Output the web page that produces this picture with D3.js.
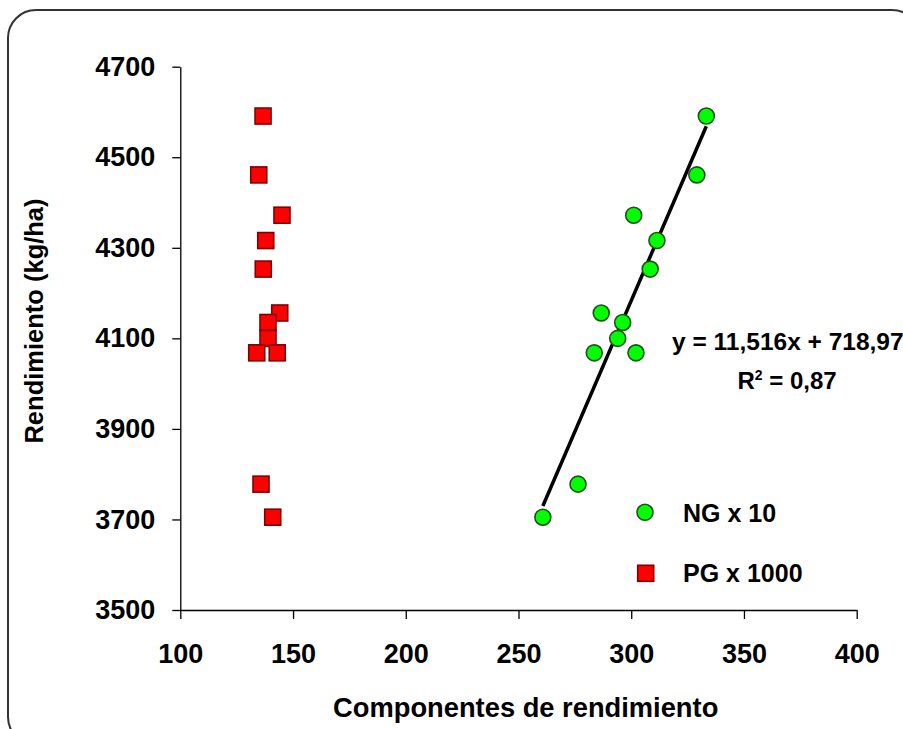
<!DOCTYPE html>
<html>
<head>
<meta charset="utf-8">
<script src="https://cdn.jsdelivr.net/npm/d3@7"></script>
<style>
  body { margin: 0; background: #fff; }
  text { font-family: "Liberation Sans", Arial, sans-serif; font-weight: bold; }
</style>
</head>
<body>
<div id="chart"></div>
<script>
// yield (kg/ha) shared by both series
var yieldVals = [4591, 4461, 4372, 4316, 4253, 4156, 4135, 4100, 4068, 4068, 3778, 3705];
// NG x 10 (green circles)
var ngVals = [333.3, 329.1, 301.1, 311.4, 308.4, 286.7, 296.2, 294.0, 283.6, 302.1, 276.4, 260.8];
// PG x 1000 (red squares)
var pgVals = [136.7, 134.8, 145.1, 137.9, 136.8, 144.1, 138.9, 138.9, 133.9, 143.0, 135.8, 141.0];

var xTicks = [100, 150, 200, 250, 300, 350, 400];
var yTicks = [3500, 3700, 3900, 4100, 4300, 4500, 4700];
var legendLabels = ["NG x 10", "PG x 1000"];
var eqLabel = "y = 11,516x + 718,97";

var width = 903, height = 729;

var svg = d3.select("#chart").append("svg").attr("width", width).attr("height", height);

// rounded frame, runs off the right and bottom edge
svg.append("rect")
   .attr("x", 8).attr("y", 10)
   .attr("width", 912).attr("height", 735)
   .attr("rx", 28).attr("ry", 28)
   .attr("fill", "none").attr("stroke", "#333").attr("stroke-width", 2);

var xScale = d3.scaleLinear().domain([100, 400]).range([180.3, 856.7]);
var yScale = d3.scaleLinear().domain([3500, 4700]).range([610, 66.7]);

//axes
var xAxis = d3.axisBottom(xScale).tickValues(xTicks).tickSize(9).tickSizeOuter(0).tickPadding(25).tickFormat(d3.format("d"));
var yAxis = d3.axisLeft(yScale).tickValues(yTicks).tickSize(8).tickSizeOuter(0).tickPadding(17).tickFormat(d3.format("d"));

var gx = svg.append("g").attr("transform", "translate(0,610)").call(xAxis);
var gy = svg.append("g").attr("transform", "translate(180.3,0)").call(yAxis);

[gx, gy].forEach(function(g){
  g.selectAll("path, line").attr("stroke", "#000").attr("stroke-width", 1.3);
  g.selectAll("text").attr("font-size", 27).attr("fill", "#000")
   .style("font-family", "'Liberation Sans', Arial, sans-serif").style("font-weight", "bold");
});

// trend line for NG series, least squares
var n = ngVals.length;
var mx = d3.mean(ngVals), my = d3.mean(yieldVals);
var sxy = 0, sxx = 0;
for (var i = 0; i < n; i++) {
  sxy += (ngVals[i] - mx) * (yieldVals[i] - my);
  sxx += (ngVals[i] - mx) * (ngVals[i] - mx);
}
var slope = sxy / sxx, icpt = my - slope * mx;
var xr = d3.extent(ngVals);
svg.append("line")
   .attr("x1", xScale(xr[0])).attr("y1", yScale(slope * xr[0] + icpt))
   .attr("x2", xScale(xr[1])).attr("y2", yScale(slope * xr[1] + icpt))
   .attr("stroke", "#000").attr("stroke-width", 3.5);

// red squares
var sq = 16;
svg.selectAll("rect.pg")
   .data(pgVals).enter().append("rect")
   .attr("class", "pg")
   .attr("x", function(d){ return xScale(d) - sq / 2; })
   .attr("y", function(d, i){ return yScale(yieldVals[i]) - sq / 2; })
   .attr("width", sq).attr("height", sq)
   .attr("fill", "#ff0000").attr("stroke", "#800000").attr("stroke-width", 1.6);

// green circles
svg.selectAll("circle.ng")
   .data(ngVals).enter().append("circle")
   .attr("class", "ng")
   .attr("cx", function(d){ return xScale(d); })
   .attr("cy", function(d, i){ return yScale(yieldVals[i]); })
   .attr("r", 8)
   .attr("fill", "#00ff00").attr("stroke", "#1f4f1f").attr("stroke-width", 1.6);

// equation and R2
svg.append("text").attr("x", 672).attr("y", 350).attr("font-size", 24.5).text(eqLabel);
var r2 = svg.append("text").attr("x", 787).attr("y", 389).attr("font-size", 24).attr("text-anchor", "middle");
r2.append("tspan").text("R");
r2.append("tspan").attr("font-size", 14).attr("dy", -9).text("2");
r2.append("tspan").attr("dy", 9).text(" = 0,87");

// legend
svg.append("circle").attr("cx", 645).attr("cy", 512.3).attr("r", 8)
   .attr("fill", "#00ff00").attr("stroke", "#1f4f1f").attr("stroke-width", 1.6);
svg.append("rect").attr("x", 645.7 - sq / 2).attr("y", 573.3 - sq / 2).attr("width", sq).attr("height", sq)
   .attr("fill", "#ff0000").attr("stroke", "#800000").attr("stroke-width", 1.6);
svg.selectAll("text.leg")
   .data(legendLabels).enter().append("text")
   .attr("class", "leg")
   .attr("x", 683)
   .attr("y", function(d, i){ return 521.7 + i * 60; })
   .attr("font-size", 25)
   .text(function(d){ return d; });

// axis titles
svg.append("text")
   .attr("x", 525.7).attr("y", 717)
   .attr("text-anchor", "middle")
   .attr("font-size", 27.3)
   .text("Componentes de rendimiento");

svg.append("text")
   .attr("transform", "translate(43,321) rotate(-90)")
   .attr("text-anchor", "middle")
   .attr("font-size", 25.5)
   .text("Rendimiento (kg/ha)");
</script>
</body>
</html>
